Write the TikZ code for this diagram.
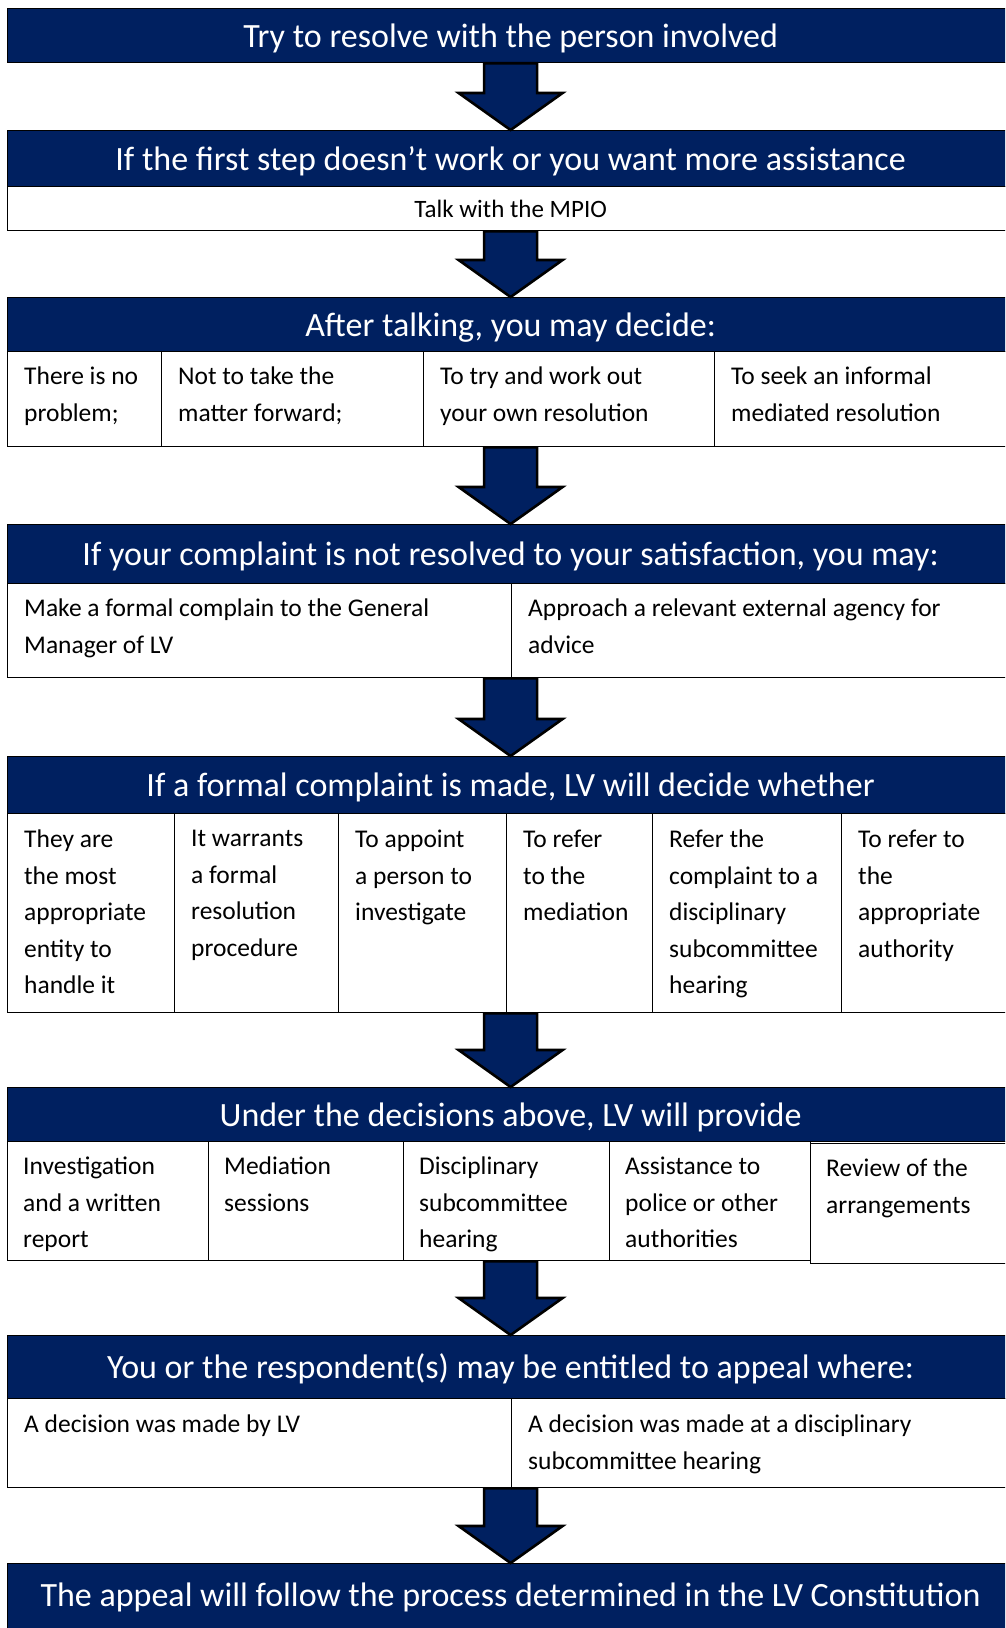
\documentclass[tikz,border=0pt]{standalone}
\usepackage{fontspec}
\setmainfont{Carlito}
\usetikzlibrary{calc}
\definecolor{navy}{RGB}{0,32,96}
\tikzset{
  hdr/.style={draw=black, line width=1.2pt, fill=navy, text=white, anchor=north west,
    inner sep=0pt, minimum width=1006, text height=24pt, text depth=1pt,
    font=\fontsize{34}{40}\selectfont},
  cellbox/.style={draw=black, line width=1.3pt, fill=white, anchor=north west, inner sep=0pt},
  celltxt/.style={anchor=north west, inner sep=0pt, align=left, text=black,
    font=\fontsize{25.5}{36.5}\selectfont},
  barrow/.style={draw=black, line width=2.6pt, fill=navy, line join=miter},
}
\newcommand\blockarr[2]{%
  \draw[barrow] let \p1=(#1), \p2=(#2) in
    (\x2-26.5,\y1) -- (\x2+26.5,\y1) -- (\x2+26.5,\y2+37) -- (\x2+52,\y2+37)
    -- (\x2,\y2) -- (\x2-52,\y2+37) -- (\x2-26.5,\y2+37) -- cycle;}
\begin{document}
\begin{tikzpicture}[x=1pt,y=-1pt]
\useasboundingbox (0,0) rectangle (1005,1628);
\clip (0,0) rectangle (1005,1628);
\fill[white] (0,0) rectangle (1005,1628);

% Stage 1
\node[hdr, minimum height=54] (h1) at (7,8) {Try to resolve with the person involved};

% Stage 2
\node[hdr, minimum height=56] (h2) at (7,130) {If the first step doesn’t work or you want more assistance};
\node[cellbox, minimum width=1006, minimum height=44, text height=18pt, text depth=1pt,
  font=\fontsize{25}{30}\selectfont] (c21) at (7,186) {Talk with the MPIO};

% Stage 3
\node[hdr, minimum height=54] (h3) at (7,297) {After talking, you may decide:};
\node[cellbox, minimum width=154, minimum height=95] (c31) at (7,351) {};
\node[cellbox, minimum width=262, minimum height=95] (c32) at (161,351) {};
\node[cellbox, minimum width=291, minimum height=95] (c33) at (423,351) {};
\node[cellbox, minimum width=299, minimum height=95] (c34) at (714,351) {};
\node[celltxt] (t31) at ($(c31.north west)+(17,16)$) {There is no\\problem;};
\node[celltxt] (t32) at ($(c32.north west)+(17,16)$) {Not to take the\\matter forward;};
\node[celltxt] (t33) at ($(c33.north west)+(17,16)$) {To try and work out\\your own resolution};
\node[celltxt] (t34) at ($(c34.north west)+(17,16)$) {To seek an informal\\mediated resolution};

% Stage 4
\node[hdr, minimum height=59] (h4) at (7,524) {If your complaint is not resolved to your satisfaction, you may:};
\node[cellbox, minimum width=504, minimum height=94] (c41) at (7,583) {};
\node[cellbox, minimum width=502, minimum height=94] (c42) at (511,583) {};
\node[celltxt] (t41) at ($(c41.north west)+(17,16)$) {Make a formal complain to the General\\Manager of LV};
\node[celltxt] (t42) at ($(c42.north west)+(17,16)$) {Approach a relevant external agency for\\advice};

% Stage 5
\node[hdr, minimum height=57] (h5) at (7,756) {If a formal complaint is made, LV will decide whether};
\node[cellbox, minimum width=167, minimum height=199] (c51) at (7,813) {};
\node[cellbox, minimum width=164, minimum height=199] (c52) at (174,813) {};
\node[cellbox, minimum width=168, minimum height=199] (c53) at (338,813) {};
\node[cellbox, minimum width=146, minimum height=199] (c54) at (506,813) {};
\node[cellbox, minimum width=189, minimum height=199] (c55) at (652,813) {};
\node[cellbox, minimum width=172, minimum height=199] (c56) at (841,813) {};
\node[celltxt] (t51) at ($(c51.north west)+(17,17)$) {They are\\the most\\appropriate\\entity to\\handle it};
\node[celltxt] (t52) at ($(c52.north west)+(17,17)$) {It warrants\\a formal\\resolution\\procedure};
\node[celltxt] (t53) at ($(c53.north west)+(17,17)$) {To appoint\\a person to\\investigate};
\node[celltxt] (t54) at ($(c54.north west)+(17,17)$) {To refer\\to the\\mediation};
\node[celltxt] (t55) at ($(c55.north west)+(17,17)$) {Refer the\\complaint to a\\disciplinary\\subcommittee\\hearing};
\node[celltxt] (t56) at ($(c56.north west)+(17,17)$) {To refer to\\the\\appropriate\\authority};

% Stage 6
\node[hdr, minimum height=54] (h6) at (7,1087) {Under the decisions above, LV will provide};
\node[cellbox, minimum width=201, minimum height=119] (c61) at (7,1141) {};
\node[cellbox, minimum width=195, minimum height=119] (c62) at (208,1141) {};
\node[cellbox, minimum width=206, minimum height=119] (c63) at (403,1141) {};
\node[cellbox, minimum width=201, minimum height=119] (c64) at (609,1141) {};
\node[cellbox, minimum width=203, minimum height=120] (c65) at (810,1143) {};
\node[celltxt] (t61) at ($(c61.north west)+(16,16)$) {Investigation\\and a written\\report};
\node[celltxt] (t62) at ($(c62.north west)+(16,16)$) {Mediation\\sessions};
\node[celltxt] (t63) at ($(c63.north west)+(16,16)$) {Disciplinary\\subcommittee\\hearing};
\node[celltxt] (t64) at ($(c64.north west)+(16,16)$) {Assistance to\\police or other\\authorities};
\node[celltxt] (t65) at ($(c65.north west)+(16,16)$) {Review of the\\arrangements};

% Stage 7
\node[hdr, minimum height=63] (h7) at (7,1335) {You or the respondent(s) may be entitled to appeal where:};
\node[cellbox, minimum width=504, minimum height=89] (c71) at (7,1398) {};
\node[cellbox, minimum width=502, minimum height=89] (c72) at (511,1398) {};
\node[celltxt] (t71) at ($(c71.north west)+(17,17)$) {A decision was made by LV};
\node[celltxt] (t72) at ($(c72.north west)+(17,17)$) {A decision was made at a disciplinary\\subcommittee hearing};

% Stage 8
\node[hdr, minimum height=72, text depth=10pt] (h8) at (7,1563) {The appeal will follow the process determined in the LV Constitution};

% Block arrows
\blockarr{h1.south}{h2.north}
\blockarr{c21.south}{h3.north}
\blockarr{c31.south}{h4.north}
\blockarr{c41.south}{h5.north}
\blockarr{c51.south}{h6.north}
\blockarr{c61.south}{h7.north}
\blockarr{c71.south}{h8.north}
\end{tikzpicture}
\end{document}
